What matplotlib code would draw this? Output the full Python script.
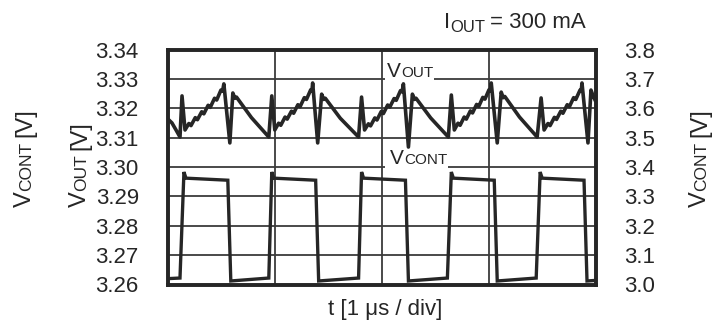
import matplotlib
matplotlib.use("Agg")
import matplotlib.pyplot as plt
from matplotlib.patches import Rectangle

plt.rcParams['font.family'] = ['Liberation Sans', 'DejaVu Sans']

W, H = 723, 327
INK = '#262626'

# left axis (V_OUT) and right axis (V_CONT) scales
vout_ticks = [3.26, 3.27, 3.28, 3.29, 3.30, 3.31, 3.32, 3.33, 3.34]
vout_labels = ['3.26', '3.27', '3.28', '3.29', '3.30', '3.31', '3.32', '3.33', '3.34']
vcont_ticks = [3.0, 3.1, 3.2, 3.3, 3.4, 3.5, 3.6, 3.7, 3.8]
vcont_labels = ['3.0', '3.1', '3.2', '3.3', '3.4', '3.5', '3.6', '3.7', '3.8']
time_div = [1, 2, 3]

# output voltage trace, t in us
vout_t = [0.000, 0.037, 0.075, 0.112, 0.131,
          0.159, 0.195, 0.215, 0.255, 0.275, 0.315, 0.335, 0.375, 0.395, 0.435, 0.455, 0.495, 0.510, 0.522,
          0.578, 0.606, 0.625, 0.640, 0.780, 0.942, 0.970,
          0.998, 1.034, 1.054, 1.094, 1.114, 1.154, 1.174, 1.214, 1.234, 1.274, 1.294, 1.334, 1.345, 1.352,
          1.399, 1.436, 1.455, 1.470, 1.610, 1.781, 1.809,
          1.837, 1.873, 1.893, 1.933, 1.953, 1.993, 2.013, 2.053, 2.073, 2.113, 2.133, 2.173, 2.188, 2.200,
          2.247, 2.284, 2.303, 2.318, 2.455, 2.620, 2.648,
          2.676, 2.710, 2.730, 2.768, 2.788, 2.826, 2.846, 2.884, 2.904, 2.942, 2.962, 3.000, 3.012, 3.021,
          3.077, 3.114, 3.133, 3.148, 3.285, 3.450, 3.487,
          3.515, 3.551, 3.571, 3.611, 3.631, 3.671, 3.691, 3.731, 3.751, 3.791, 3.811, 3.851, 3.862, 3.869,
          3.925, 3.953, 3.975, 3.991]
vout_v = [3.3163, 3.3150, 3.3126, 3.3102, 3.3242,
          3.3126, 3.3148, 3.3141, 3.3168, 3.3161, 3.3188, 3.3181, 3.3210, 3.3203, 3.3234, 3.3228, 3.3262, 3.3258, 3.3283,
          3.3082, 3.3252, 3.3234, 3.3238, 3.3168, 3.3102, 3.3242,
          3.3126, 3.3149, 3.3142, 3.3170, 3.3163, 3.3190, 3.3183, 3.3212, 3.3205, 3.3236, 3.3230, 3.3263, 3.3259, 3.3286,
          3.3082, 3.3248, 3.3230, 3.3234, 3.3166, 3.3102, 3.3238,
          3.3126, 3.3147, 3.3140, 3.3167, 3.3160, 3.3189, 3.3182, 3.3211, 3.3204, 3.3233, 3.3227, 3.3260, 3.3256, 3.3283,
          3.3068, 3.3248, 3.3230, 3.3234, 3.3167, 3.3102, 3.3245,
          3.3126, 3.3149, 3.3142, 3.3170, 3.3163, 3.3191, 3.3184, 3.3213, 3.3206, 3.3237, 3.3231, 3.3263, 3.3259, 3.3286,
          3.3082, 3.3255, 3.3236, 3.3240, 3.3170, 3.3102, 3.3235,
          3.3126, 3.3148, 3.3141, 3.3169, 3.3162, 3.3190, 3.3183, 3.3212, 3.3205, 3.3236, 3.3230, 3.3262, 3.3258, 3.3286,
          3.3082, 3.3262, 3.3240, 3.3228]

# control pin voltage trace
vcont_t = [0.000, 0.112, 0.149, 0.168, 0.559, 0.587,
           0.942, 0.970, 0.988, 1.380, 1.408,
           1.781, 1.809, 1.828, 2.219, 2.247,
           2.611, 2.648, 2.667, 3.049, 3.077,
           3.441, 3.478, 3.497, 3.888, 3.916, 4.000]
vcont_v = [3.020, 3.022, 3.383, 3.362, 3.355, 3.012,
           3.022, 3.383, 3.362, 3.355, 3.012,
           3.022, 3.383, 3.362, 3.355, 3.012,
           3.022, 3.383, 3.362, 3.355, 3.012,
           3.022, 3.383, 3.362, 3.355, 3.012, 3.014]

fig = plt.figure(figsize=(W / 100, H / 100), dpi=100)
ax = fig.add_axes([168 / W, 1 - 284.5 / H, 428 / W, 235 / H])
ax2 = ax.twinx()


def label(target, x, y, pieces, rotation=0, **kw):
    # pieces: (text, fontsize, drop_px, gap_px); x, y are pixels from top-left
    r = fig.canvas.get_renderer()
    off = 0.0
    for text, size, drop, gap in pieces:
        off += gap
        if rotation == 0:
            px, py = x + off, y + drop
        else:
            px, py = x + drop, y - off
        t = target.text(px / W, 1 - py / H, text, fontsize=size, rotation=rotation,
                        rotation_mode='anchor', ha='left', va='baseline',
                        color=INK, transform=fig.transFigure, **kw)
        bb = t.get_window_extent(r)
        off += bb.width if rotation == 0 else bb.height
    return off


def blank(x0, y0, x1, y1):
    # white patch over the grid behind a trace name (pixels from top-left)
    ax.add_patch(Rectangle((x0 / W, 1 - y1 / H), (x1 - x0) / W, (y1 - y0) / H,
                           transform=fig.transFigure, facecolor='white',
                           edgecolor='none', zorder=3))


ax.set_xlim(0, 4)
ax.set_xticks(time_div)
ax.set_xticklabels([])
ax.set_ylim(3.26, 3.34)
ax.set_yticks(vout_ticks)
ax.set_yticklabels(vout_labels)
ax.tick_params(length=0, labelsize=16, pad=21, colors=INK)
ax.grid(True, color='#3c3c3c', lw=1.3)

ax2.set_ylim(3.0, 3.8)
ax2.set_yticks(vcont_ticks)
ax2.set_yticklabels(vcont_labels)
ax2.tick_params(length=0, labelsize=16, pad=20, colors=INK)

for a in (ax, ax2):
    for s in a.spines.values():
        s.set_linewidth(2.6)
        s.set_color(INK)

ax.plot(vout_t, vout_v, color=INK, lw=2.6, solid_joinstyle='round', zorder=5)
ax2.plot(vcont_t, vcont_v, color=INK, lw=2.4, solid_joinstyle='miter', zorder=5)

# trace names sitting on the grid lines
w = label(ax, 387, 77, [('V', 15, 0, 0), ('OUT', 11, 0, 0)], zorder=4)
blank(385, 60, 387 + w + 1, 81.5)
w = label(ax, 390, 164, [('V', 15, 0, 0), ('CONT', 11, 0, 0)], zorder=4)
blank(385, 147, 390 + w + 1, 168.5)

# axis titles
label(fig, 31, 207, [('V', 17, 0, 0), ('CONT', 12.5, 0, 0), ('[V]', 17, 0, 5)], rotation=90)
label(fig, 86, 207, [('V', 17, 0, 0), ('OUT', 12.5, 0, 0), ('[V]', 17, 0, 5)], rotation=90)
label(fig, 706, 207, [('V', 17, 0, 0), ('CONT', 12.5, 0, 0), ('[V]', 17, 0, 5)], rotation=90)
label(fig, 444, 28, [('I', 16, 0, 0), ('OUT', 12, 4, 0), ('= 300 mA', 16, 0, 5)])
fig.text(385 / W, 1 - 310 / H, 't [1 \u03bcs / div]', fontsize=16, color=INK,
         ha='center', va='center')

fig.savefig('out.png', dpi=100)
